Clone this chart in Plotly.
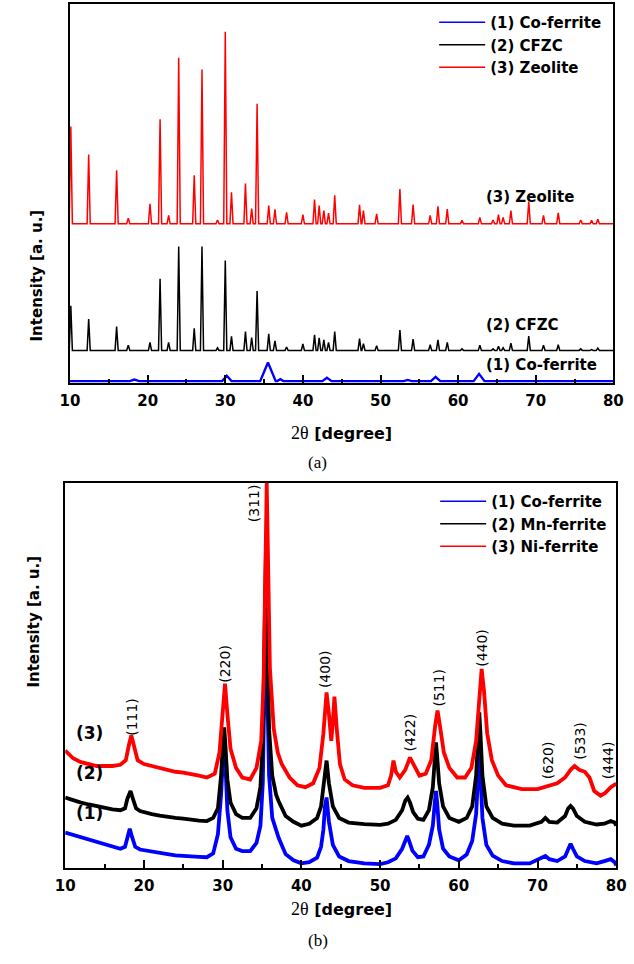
import plotly.graph_objects as go

# ---------------- Panel (a) data: peak tables ----------------
peak_pos_a = [10.1, 12.4, 16.0, 17.5, 20.3, 21.6, 22.7, 24.0, 26.0, 27.0, 29.0, 30.0, 30.8,
              32.6, 33.4, 34.1, 35.6, 36.4, 37.9, 40.0, 41.5, 42.1, 42.7, 43.3, 44.1, 47.3,
              47.8, 49.5, 52.5, 54.2, 56.4, 57.4, 58.6, 60.5, 62.8, 64.5, 65.2, 65.8, 66.8,
              69.1, 71.0, 72.9, 75.8, 77.2, 78.0]
zeolite_peaks = [67.7, 60.3, 56.1, 43.5, 47.3, 69.6, 44.2, 85.8, 54.8, 82.7, 43.0, 92.7, 50.3,
                 52.6, 46.0, 73.7, 46.8, 45.8, 45.0, 44.4, 48.4, 46.8, 45.5, 44.8, 49.5, 47.0,
                 45.5, 44.6, 51.2, 47.1, 44.2, 46.6, 45.9, 42.9, 43.7, 43.0, 44.4, 43.7, 45.5,
                 47.9, 44.2, 44.9, 43.0, 42.9, 43.2]
zeolite_base = 42.0
cfzc_peaks = [20.4, 16.9, 14.9, 10.0, 10.7, 27.5, 10.7, 36.0, 14.4, 36.0, 9.3, 32.3, 12.3,
              13.6, 12.0, 24.3, 13.0, 11.1, 9.5, 10.3, 12.7, 11.9, 11.4, 10.7, 13.6, 11.7,
              10.4, 9.8, 14.0, 11.6, 10.1, 11.4, 10.7, 9.0, 10.0, 9.0, 9.7, 9.3, 10.5,
              12.4, 10.0, 10.1, 9.0, 8.8, 9.2]
cfzc_base = 8.6
cofe_pos_a = [18.3, 30.2, 35.5, 37.1, 43.1, 53.5, 57.1, 62.7, 74.5]
cofe_peaks_a = [0.9, 1.9, 5.4, 1.0, 1.4, 0.8, 1.6, 2.4, 0.7]
cofe_halfw_a = [0.6, 0.6, 1.0, 0.4, 0.6, 0.5, 0.6, 0.7, 0.7]
cofe_base_a = 0.5
sharp_halfw = 0.2

# ---------------- Panel (b) data: traced (2theta, intensity) vertices ----------------
co_xy = [(10, 9.2), (11, 8.6), (12, 7.8), (13, 7.2), (14, 6.6), (15, 6.2), (16, 5.6), (17, 5.0),
         (17.6, 5.5), (17.9, 8), (18.2, 10.2), (18.5, 8), (18.9, 5.5), (19.5, 4.8), (20, 4.6),
         (21, 4.2), (22, 4.0), (23, 3.6), (24, 3.3), (25, 3.1), (26, 3.0), (27, 2.9), (28, 2.8),
         (28.8, 3.8), (29.4, 8.8), (29.8, 19), (30.05, 29), (30.2, 31.8), (30.35, 27), (30.6, 15),
         (31.0, 8), (31.7, 5), (32.5, 4.4), (33.5, 4.4), (34.3, 6.5), (34.8, 11), (35.1, 22),
         (35.35, 45), (35.5, 69.5), (35.65, 48), (35.9, 24), (36.3, 13), (36.8, 9.5), (37.1, 7.9),
         (37.5, 6), (38, 3.6), (39, 2), (40, 1.2), (41, 1.5), (42, 2.7), (42.5, 5.5), (42.8, 10),
         (43.0, 16), (43.2, 18.3), (43.5, 12), (44, 6), (44.8, 3), (46, 1.8), (48, 1.2), (50, 1.0),
         (51, 1.5), (52, 2.5), (52.8, 5), (53.2, 7.5), (53.45, 8.3), (53.7, 7), (54.1, 4.5),
         (54.8, 2.8), (55.5, 3), (56.2, 6), (56.7, 11), (56.95, 17), (57.1, 20), (57.25, 17),
         (57.5, 10), (58, 5), (58.8, 3), (60, 2), (61, 3.5), (61.7, 7), (62.2, 14), (62.45, 24),
         (62.6, 30.5), (62.75, 25), (63.0, 13), (63.5, 6), (64.3, 3.2), (65.5, 1.8), (67, 1.2),
         (69, 1.2), (70.5, 2.5), (71.0, 3.1), (71.5, 2.3), (72.5, 1.8), (73.5, 3), (73.9, 5),
         (74.2, 6.3), (74.5, 5), (75, 3), (76, 1.8), (77.5, 1.2), (78.5, 1.8), (79.3, 2.3),
         (79.8, 1.5), (80, 0.7)]
mn_xy = [(10, 18.3), (11, 17.6), (12, 17), (13, 16.5), (14, 16), (15, 15.5), (16, 15.2), (17, 15),
         (17.6, 15.5), (17.9, 18), (18.3, 20), (18.6, 18), (19.0, 15.5), (19.5, 14.8), (20, 14.5),
         (21, 14), (22, 13.6), (23, 13.2), (24, 13), (25, 12.8), (26, 12.5), (27, 12.3), (28, 12.2),
         (28.8, 13), (29.4, 15.5), (29.8, 24), (30.05, 33), (30.2, 36.5), (30.35, 32), (30.6, 23),
         (31.0, 17), (31.7, 14), (32.5, 13), (33.5, 13), (34.3, 15.5), (34.8, 21), (35.1, 33),
         (35.35, 58), (35.5, 82.5), (35.65, 60), (35.9, 36), (36.3, 24), (36.8, 19), (37.1, 17.4),
         (37.5, 15.5), (38, 13.5), (39, 12), (40, 11), (41, 11.5), (42, 13), (42.5, 16), (42.8, 21),
         (43.0, 26), (43.2, 27.9), (43.5, 22), (44, 16), (44.8, 13), (46, 11.8), (48, 11.4),
         (50, 11.2), (51, 11.5), (52, 12.5), (52.8, 15), (53.2, 17.5), (53.5, 18.3), (53.8, 17),
         (54.2, 14.5), (54.8, 12.8), (55.5, 12.5), (56.2, 15), (56.7, 21), (56.95, 29), (57.1, 32.6),
         (57.25, 29), (57.5, 22), (58, 16), (58.8, 13), (60, 12), (61, 13), (61.7, 16), (62.2, 24),
         (62.45, 34), (62.6, 40.4), (62.75, 35), (63.0, 24), (63.5, 16), (64.3, 13), (65.5, 11.5),
         (67, 11), (69, 11), (70.5, 12), (71.0, 13), (71.5, 12), (72.5, 11.8), (73.5, 13.5),
         (73.9, 15.5), (74.2, 16.1), (74.5, 15.5), (75, 13.5), (76, 12), (77.5, 11.3), (78.5, 11.5),
         (79.3, 12.2), (79.8, 11.8), (80, 11)]
ni_xy = [(10, 30.5), (11, 28.5), (12, 27.5), (13, 27), (14, 26.5), (15, 26.5), (16, 26.5), (17, 26.8),
         (17.7, 28), (18.1, 32), (18.4, 34.4), (18.7, 32), (19.2, 28), (20, 27), (21, 26.5), (22, 26),
         (23, 25.5), (24, 25), (25, 24.8), (26, 24.5), (27, 24), (28, 23.5), (29, 24.5), (29.6, 30),
         (30.0, 40), (30.3, 47.9), (30.6, 40), (31.0, 31), (31.7, 26), (32.5, 23.5), (33.5, 23),
         (34.3, 26), (34.9, 33), (35.2, 48), (35.45, 80), (35.6, 100), (35.75, 82), (36.0, 52),
         (36.5, 36), (37.0, 30), (37.5, 27), (38.5, 23.5), (39.5, 21.5), (40.5, 21), (41.5, 22),
         (42.3, 26), (42.8, 35), (43.2, 45.6), (43.5, 40), (43.8, 33), (44.0, 38), (44.2, 44.5),
         (44.5, 36), (44.9, 27), (45.5, 23), (46.5, 21.5), (48, 20.8), (50, 20.8), (51, 21.5),
         (51.4, 24), (51.7, 27.9), (52.0, 25), (52.5, 23.5), (53.2, 25.5), (53.8, 28.7), (54.3, 26.5),
         (55, 24), (55.8, 24.5), (56.5, 28), (57.0, 37), (57.3, 40.9), (57.6, 37), (58.1, 30),
         (58.8, 26), (59.8, 23.5), (60.8, 23.5), (61.6, 26), (62.2, 33), (62.6, 45), (62.9, 51.7),
         (63.2, 46), (63.6, 35), (64.2, 28), (65, 24), (66, 21.5), (68, 20.5), (70, 20.5),
         (71.5, 21.5), (72.5, 22), (73.5, 23.5), (74.2, 25.5), (74.7, 26.5), (75.3, 25.5), (76.0, 25),
         (76.6, 23.5), (77.2, 20), (78.0, 18.8), (78.6, 19.5), (79.3, 21), (80, 21.9)]

hkl_labels = ["(111)", "(220)", "(311)", "(400)", "(422)", "(511)", "(440)", "(620)", "(533)", "(444)"]
hkl_pos = [18.5, 30.2, 34.0, 43.1, 53.8, 57.5, 63.0, 71.25, 75.3, 78.9]
hkl_lab_y = [39.3, 53.1, 94.8, 51.6, 35.2, 46.9, 57.3, 28.1, 33.1, 27.9]

tick_vals = [10, 20, 30, 40, 50, 60, 70, 80]
tick_text = ["10", "20", "30", "40", "50", "60", "70", "80"]


def stick_profile(pos, heights, halfw, base):
    xs, ys = [], []
    for i, (p, h) in enumerate(zip(pos, heights)):
        w = halfw[i] if isinstance(halfw, list) else halfw
        xs += [p - w, p, p + w]
        ys += [base, h, base]
    xs.append(80.5)
    ys.append(base)
    return xs, ys


fig = go.Figure()

zx, zy = stick_profile(peak_pos_a, zeolite_peaks, sharp_halfw, zeolite_base)
cx, cy = stick_profile(peak_pos_a, cfzc_peaks, sharp_halfw, cfzc_base)
bx, by = stick_profile(cofe_pos_a, cofe_peaks_a, cofe_halfw_a, cofe_base_a)
bx = [9.5] + bx
by = [cofe_base_a] + by

BLUE, BLACK, RED = "#0000ff", "#000000", "#ff0000"

fig.add_trace(go.Scatter(x=bx, y=by, mode="lines", showlegend=False,
                         line=dict(color=BLUE, width=2.4), xaxis="x", yaxis="y"))
fig.add_trace(go.Scatter(x=cx, y=cy, mode="lines", showlegend=False,
                         line=dict(color=BLACK, width=1.5), xaxis="x", yaxis="y"))
fig.add_trace(go.Scatter(x=zx, y=zy, mode="lines", showlegend=False,
                         line=dict(color=RED, width=1.5), xaxis="x", yaxis="y"))

for xy, col in [(co_xy, BLUE), (mn_xy, BLACK), (ni_xy, RED)]:
    fig.add_trace(go.Scatter(x=[p[0] for p in xy], y=[p[1] for p in xy], mode="lines",
                             showlegend=False, line=dict(color=col, width=3.8),
                             xaxis="x2", yaxis="y2"))

# legend entries
for name, col in [("(1) Co-ferrite", BLUE), ("(2) CFZC", BLACK), ("(3) Zeolite", RED)]:
    fig.add_trace(go.Scatter(x=[None], y=[None], mode="lines", name=name,
                             line=dict(color=col, width=1.5), xaxis="x", yaxis="y",
                             legend="legend"))
for name, col in [("(1) Co-ferrite", BLUE), ("(2) Mn-ferrite", BLACK), ("(3) Ni-ferrite", RED)]:
    fig.add_trace(go.Scatter(x=[None], y=[None], mode="lines", name=name,
                             line=dict(color=col, width=1.5), xaxis="x2", yaxis="y2",
                             legend="legend2"))

W, H = 634, 964
SANS = "DejaVu Sans, sans-serif"
SERIF = "Liberation Serif, Times New Roman, serif"
tickfont = dict(family=SANS, size=15, color="black", weight="bold")
bold15 = dict(family=SANS, size=15, color="black", weight="bold")

xcommon = dict(range=[10, 80], tickmode="array", tickvals=tick_vals, ticktext=tick_text,
               ticks="inside", ticklen=8, tickwidth=1.5, tickcolor="black",
               minor=dict(ticks="inside", ticklen=4, tickwidth=1.5, tickcolor="black", dtick=5),
               showline=True, linecolor="black", linewidth=2, mirror=True,
               showgrid=False, zeroline=False, tickfont=tickfont, ticklabelstandoff=3)
ycommon = dict(range=[0, 100], showticklabels=False, ticks="", showline=True,
               linecolor="black", linewidth=2, mirror=True, showgrid=False, zeroline=False)

fig.update_layout(
    width=W, height=H, margin=dict(l=0, r=0, t=0, b=0),
    paper_bgcolor="white", plot_bgcolor="white",
    xaxis=dict(domain=[62 / W, 623 / W], anchor="y", **xcommon),
    yaxis=dict(domain=[1 - 383 / H, 1 - 4 / H], anchor="x", **ycommon),
    xaxis2=dict(domain=[57 / W, 626 / W], anchor="y2", **xcommon),
    yaxis2=dict(domain=[1 - 868 / H, 1 - 483 / H], anchor="x2", **ycommon),
    legend=dict(x=438 / W, y=1 - 6 / H, xanchor="left", yanchor="top", itemwidth=46,
                bgcolor="rgba(0,0,0,0)", tracegroupgap=0, font=bold15),
    legend2=dict(x=439 / W, y=1 - 485 / H, xanchor="left", yanchor="top", itemwidth=46,
                 bgcolor="rgba(0,0,0,0)", tracegroupgap=0, font=bold15),
    showlegend=True,
)

ann = []
for xc, yc in [(17, 207), (13, 690)]:
    ann.append(dict(text="Intensity [a. u.]", x=xc / W, y=1 - yc / H, xref="paper", yref="paper",
                    textangle=-90, showarrow=False, font=bold15))
xtitle = ("<span style='font-family:Liberation Serif, Times New Roman, serif;font-weight:normal;"
          "font-size:18px'>2θ</span> [degree]")
for yc in [433, 921]:
    ann.append(dict(text=xtitle, x=342 / W, y=1 - yc / H, xref="paper", yref="paper",
                    showarrow=False, font=dict(family=SANS, size=16, color="black", weight="bold")))
ann.append(dict(text="(a)", x=318 / W, y=1 - 462 / H, xref="paper", yref="paper", showarrow=False,
                font=dict(family=SERIF, size=17, color="black")))
ann.append(dict(text="(b)", x=318 / W, y=1 - 952 / H, xref="paper", yref="paper", showarrow=False,
                font=dict(family=SERIF, size=17, color="black")))
for t, yc in [("(3) Zeolite", 186), ("(2) CFZC", 325), ("(1) Co-ferrite", 365)]:
    ann.append(dict(text=t, x=489 / W, y=1 - yc / H, xref="paper", yref="paper", xanchor="left",
                    showarrow=False, font=bold15))
for t, yc in [("(3)", 745), ("(2)", 785), ("(1)", 825)]:
    ann.append(dict(text=t, x=66 / W, y=1 - yc / H, xref="paper", yref="paper", xanchor="left",
                    showarrow=False, font=dict(family=SANS, size=17, color="black", weight="bold")))
for t, xp, yp in zip(hkl_labels, hkl_pos, hkl_lab_y):
    ann.append(dict(text=t, x=xp, y=yp, xref="x2", yref="y2", textangle=-90, showarrow=False,
                    font=dict(family=SANS, size=14, color="black")))
fig.update_layout(annotations=ann)

fig.write_html("out.html", config={"displayModeBar": False},
               post_script="document.body.style.margin='0px';")
